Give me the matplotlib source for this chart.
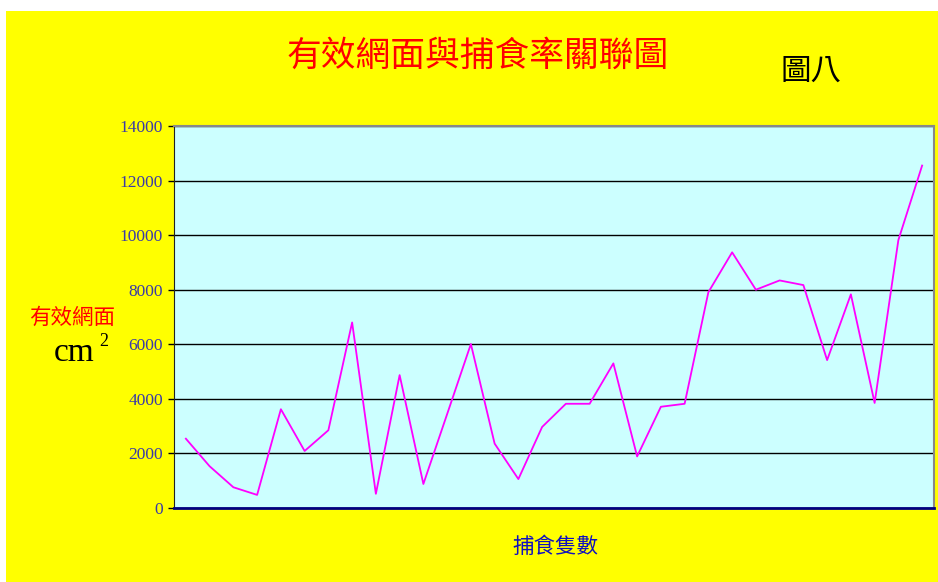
import matplotlib.pyplot as plt
from matplotlib.patches import Rectangle

# 有效網面 (cm2) for each prey count sample
area = [2540, 1530, 760, 480, 3620, 2090, 2850, 6800, 520, 4870,
        880, 3440, 6010, 2360, 1060, 2970, 3820, 3820, 5300, 1890,
        3710, 3820, 7910, 9370, 8000, 8340, 8170, 5420, 7830, 3850,
        9820, 12550]
yticks = [0, 2000, 4000, 6000, 8000, 10000, 12000, 14000]

W, H = 938, 582
fig = plt.figure(figsize=(W / 100, H / 100), dpi=100, facecolor='white')
fig.patches.append(Rectangle((6 / W, 0), 1, 1 - 11 / H, transform=fig.transFigure,
                             facecolor='#ffff00', edgecolor='none', zorder=-5))

ax = fig.add_axes([174 / W, 1 - 508 / H, (934 - 174) / W, (508 - 126) / H])
ax.set_zorder(2)
ax.set_facecolor('#ccffff')

x = list(range(len(area)))
ax.plot(x, area, color='#ff00ff', lw=1.3, zorder=3)

ax.set_xlim(-0.5, len(area) - 0.5)
ax.set_ylim(0, 14000)
ax.set_yticks(yticks)
ax.set_yticklabels([str(v) for v in yticks], family='Liberation Serif',
                   fontsize=12.5, color='#3a3aa8')
ax.set_xticks([])
ax.tick_params(axis='y', length=4, width=1, color='black', pad=4)
ax.grid(axis='y', color='black', lw=1)
ax.set_axisbelow(True)

for s in ['top', 'right']:
    ax.spines[s].set_color('#888888')
    ax.spines[s].set_linewidth(1.5)
ax.spines['left'].set_color('#222222')
ax.spines['bottom'].set_color('#000080')
ax.spines['bottom'].set_linewidth(2)

cjk = ['Noto Sans CJK TC', 'DejaVu Sans']
fig.text(478 / W, 1 - 56 / H, '有效網面與捕食率關聯圖', ha='center', va='center',
         color='#ff0000', fontsize=25, family=cjk)
fig.text(811 / W, 1 - 71 / H, '圖八', ha='center', va='center',
         color='black', fontsize=22, family=cjk)
fig.text(72 / W, 1 - 318 / H, '有效網面', ha='center', va='center',
         color='#ff0000', fontsize=15.5, family=cjk)
fig.text(54 / W, 1 - 353 / H, 'cm', ha='left', va='center',
         color='black', fontsize=24, family='Liberation Serif')
fig.text(99 / W, 1 - 341 / H, '2', ha='left', va='center',
         color='black', fontsize=13, family='Liberation Serif')
fig.text(555 / W, 1 - 547 / H, '捕食隻數', ha='center', va='center',
         color='#1010c0', fontsize=15.5, family=cjk)

fig.savefig('out.png', dpi=100, facecolor=fig.get_facecolor())
